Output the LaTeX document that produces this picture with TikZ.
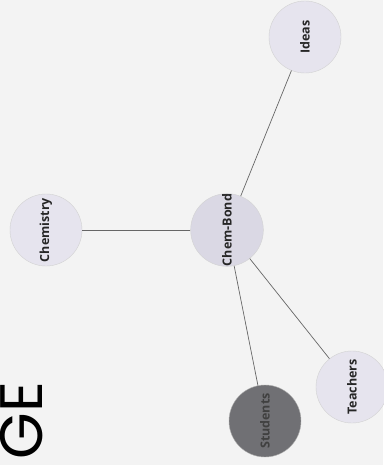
\documentclass[tikz,border=0pt]{standalone}
\usepackage{fontspec}
\setmainfont{Open Sans}
\newfontfamily\bigfont{Poppins}
\begin{document}
\begin{tikzpicture}[x=1pt,y=-1pt,
  bubble/.style={circle, minimum size=72pt, inner sep=0pt, fill=lightc, draw=gray!35, line width=0.4pt,
     font=\fontsize{12.5}{14}\selectfont\bfseries, text=black!85},
  link/.style={draw=black!60, line width=0.7pt}]
\definecolor{lightc}{HTML}{E6E4EE}
\definecolor{midc}{HTML}{DAD8E4}
\definecolor{darkc}{HTML}{707074}
\definecolor{bgc}{HTML}{F3F3F3}
\useasboundingbox[fill=bgc] (0,0) rectangle (383,465);
\node[bubble, fill=midc] (bond) at (227,230) {\rotatebox{90}{Chem-Bond}};
\node[bubble] (chem) at (46,230) {\rotatebox{90}{Chemistry}};
\node[bubble] (ideas) at (305,37) {\rotatebox{90}{Ideas}};
\node[bubble] (teach) at (352,387) {\rotatebox{90}{Teachers}};
\node[bubble, fill=darkc, draw=gray!60, text=black!75] (stud) at (265,421) {\rotatebox{90}{Students}};
\draw[link] (bond) -- (chem);
\draw[link] (bond) -- (ideas);
\draw[link] (bond) -- (teach);
\draw[link] (bond) -- (stud);
\node[rotate=90, anchor=base east, inner sep=0pt, font=\bigfont\fontsize{60}{60}\selectfont] (ge) at (42,382) {GE};
\end{tikzpicture}
\end{document}
